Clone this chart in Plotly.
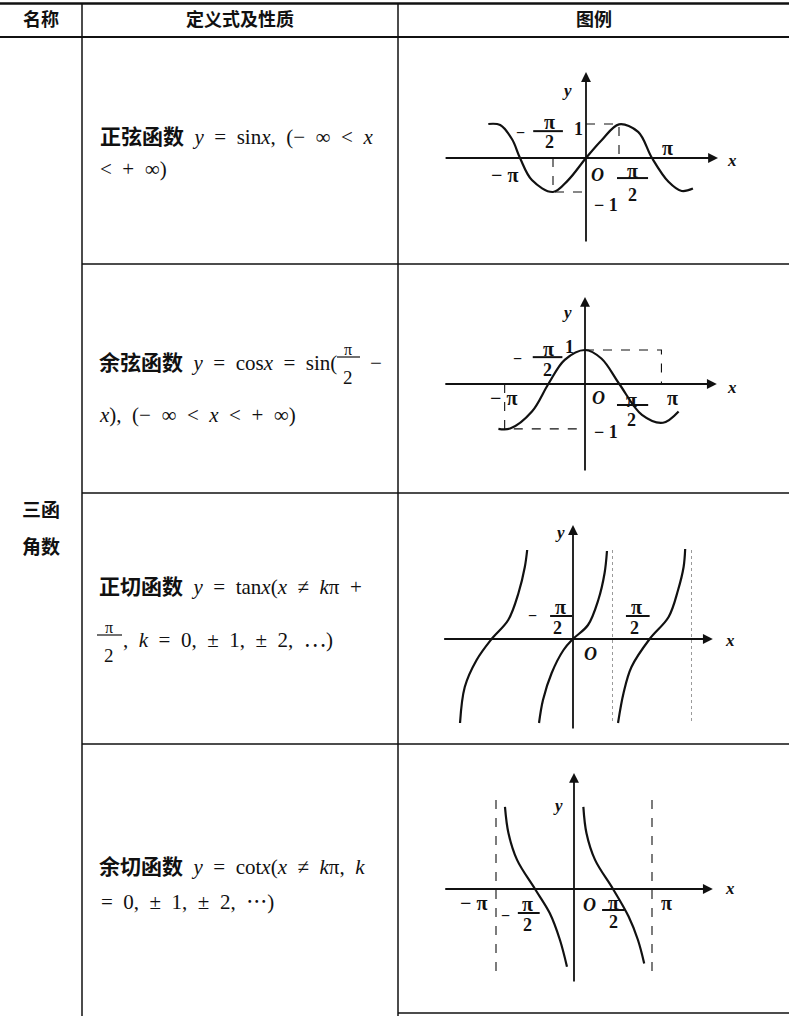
import plotly.graph_objects as go

W, H = 789, 1016

# ---- table text ----
headers = ["名称", "定义式及性质", "图例"]
group_name = ["三函", "角数"]

sin_def = ["<b>正弦函数</b> <i>y</i> = sin<i>x</i>, (− ∞ &lt; <i>x</i>", "&lt; + ∞)"]
cos_def = ["<b>余弦函数</b> <i>y</i> = cos<i>x</i> = sin(", "−", "<i>x</i>), (− ∞ &lt; <i>x</i> &lt; + ∞)"]
tan_def = ["<b>正切函数</b> <i>y</i> = tan<i>x</i>(<i>x</i> ≠ <i>k</i>π +", ", <i>k</i> = 0, ± 1, ± 2, ⋯)"]
cot_def = ["<b>余切函数</b> <i>y</i> = cot<i>x</i>(<i>x</i> ≠ <i>k</i>π, <i>k</i>", "= 0, ± 1, ± 2, ⋯)"]

# ---- curves (x in multiples of π) ----
sin_x = [-1.48, -1.3, -1.12, -1.0, -0.82, -0.5, -0.27, 0.0, 0.24, 0.5, 0.79, 1.0, 1.25, 1.45, 1.62]
sin_y = [1.0, 0.97, 0.55, 0.0, -0.65, -1.0, -0.65, 0.0, 0.53, 0.99, 0.77, 0.0, -0.7, -0.97, -0.9]

cos_x = [-1.11, -0.96, -0.68, -0.47, -0.26, 0.0, 0.21, 0.44, 0.73, 1.0, 1.2]
cos_y = [-1.32, -1.31, -0.81, 0.0, 0.71, 1.0, 0.75, 0.0, -0.91, -1.14, -0.81]

tan_left_x = [-1.43, -1.37, -1.22, -1.03, -0.82, -0.69, -0.61, -0.58]
tan_left_y = [-4.2, -2.4, -1.05, 0.0, 0.95, 2.3, 3.6, 4.45]
tan_mid_x = [-0.43, -0.38, -0.27, -0.12, 0.0, 0.19, 0.32, 0.40, 0.43]
tan_mid_y = [-4.2, -3.05, -1.7, -0.55, 0.0, 0.7, 1.95, 3.3, 4.4]
tan_right_x = [0.57, 0.64, 0.74, 0.97, 1.21, 1.33, 1.40, 1.42]
tan_right_y = [-4.2, -2.7, -1.4, 0.0, 1.1, 2.45, 3.6, 4.5]

cot_left_x = [-0.885, -0.84, -0.73, -0.5, -0.31, -0.18, -0.09]
cot_left_y = [2.74, 1.86, 0.97, 0.0, -0.81, -1.7, -2.59]
cot_right_x = [0.12, 0.16, 0.27, 0.5, 0.70, 0.82, 0.90]
cot_right_y = [2.74, 1.86, 0.97, 0.0, -0.92, -1.7, -2.48]

# dashed guide lines (None breaks the segments)
sin_guide_x = [0, 0.5, 0.5, None, -0.5, -0.5, 0]
sin_guide_y = [1, 1, 0, None, 0, -1, -1]
cos_guide_x = [0, 0.98, 0.98, None, -1.03, -1.03, 0]
cos_guide_y = [1, 1, 0, None, 0, -1.32, -1.32]
tan_asym_x = [0.5, 0.5, None, 1.5, 1.5]
tan_asym_y = [4.45, -4.2, None, 4.45, -4.2]
cot_asym_x = [-1, -1, None, 1, 1]
cot_asym_y = [2.97, -3.03, None, 2.97, -3.03]

# coordinate axes of each sketch: (x from, x to), (y from, y to)
sin_axes = ((-2.15, 2.0), (-2.5, 2.53))
cos_axes = ((-1.81, 1.69), (-2.59, 2.56))
tan_axes = ((-1.65, 1.77), (-4.55, 5.7))
cot_axes = ((-1.67, 1.78), (-3.13, 3.87))

INK = "#111111"
SERIF = "Liberation Serif, Noto Sans CJK SC"
WIDE = "\u2002"  # the book sets its formulas with wide gaps

fig = go.Figure()
layout = {}
annotations = []
shapes = []

# panel placement in pixels: box, origin, px per π, px per unit
panels = [
    ("", (420, 45, 785, 258), (586, 158), 66, 34),
    ("2", (420, 270, 785, 488), (585, 384), 78, 34),
    ("3", (420, 498, 785, 740), (573, 639), 79, 20),
    ("4", (420, 750, 785, 1010), (574, 889), 78, 30),
]
for sfx, (x0, y0, x1, y1), (ox, oy), sx, sy in panels:
    layout["xaxis" + sfx] = dict(domain=[x0 / W, x1 / W], range=[(x0 - ox) / sx, (x1 - ox) / sx],
                                 visible=False, fixedrange=True, anchor="y" + sfx)
    layout["yaxis" + sfx] = dict(domain=[1 - y1 / H, 1 - y0 / H], range=[(oy - y1) / sy, (oy - y0) / sy],
                                 visible=False, fixedrange=True, anchor="x" + sfx)


def curve(sfx, xs, ys, dash="solid", width=2.2, color=INK, spline=True):
    fig.add_trace(go.Scatter(x=xs, y=ys, mode="lines", xaxis="x" + sfx, yaxis="y" + sfx,
                             line=dict(color=color, width=width, dash=dash,
                                       shape="spline" if spline else "linear"),
                             hoverinfo="skip", showlegend=False))


def axes_arrows(sfx, ax_def):
    (xa, xb), (ya, yb) = ax_def
    for tail, head in (((xa, 0), (xb, 0)), ((0, ya), (0, yb))):
        annotations.append(dict(xref="x" + sfx, yref="y" + sfx, axref="x" + sfx, ayref="y" + sfx,
                                x=head[0], y=head[1], ax=tail[0], ay=tail[1], text="",
                                showarrow=True, arrowhead=2, arrowsize=1.1, arrowwidth=1.8,
                                arrowcolor=INK))


def lab(sfx, x, y, text, size=18, italic=False):
    t = "<i>%s</i>" % text if italic else text
    annotations.append(dict(xref="x" + sfx, yref="y" + sfx, x=x, y=y, text="<b>%s</b>" % t,
                            showarrow=False, font=dict(family=SERIF, size=size, color=INK)))


def bar(sfx, xa, xb, y):
    shapes.append(dict(type="line", xref="x" + sfx, yref="y" + sfx, x0=xa, x1=xb, y0=y, y1=y,
                       line=dict(color=INK, width=2)))


PI = 20
# --- sin ---
curve("", sin_guide_x, sin_guide_y, dash="dash", width=1.1, spline=False)
curve("", sin_x, sin_y)
axes_arrows("", sin_axes)
lab("", -0.29, 2.0, "y", 17, italic=True)
lab("", 2.21, -0.06, "x", 17, italic=True)
lab("", -1.0, 0.76, "−", 16)
lab("", -0.55, 1.06, "π", PI)
bar("", -0.8, -0.35, 0.79)
lab("", -0.55, 0.47, "2")
lab("", -0.12, 0.85, "1")
lab("", 1.24, 0.29, "π", PI)
lab("", -1.23, -0.5, "− π", PI)
lab("", 0.18, -0.5, "O", italic=True)
lab("", 0.71, -0.38, "π", PI)
bar("", 0.47, 0.94, -0.59)
lab("", 0.7, -1.09, "2")
lab("", 0.3, -1.38, "− 1")

# --- cos ---
curve("2", cos_guide_x, cos_guide_y, dash="dash", width=1.1, spline=False)
curve("2", cos_x, cos_y)
axes_arrows("2", cos_axes)
lab("2", -0.23, 2.09, "y", 17, italic=True)
lab("2", 1.88, -0.09, "x", 17, italic=True)
lab("2", -0.87, 0.76, "−", 16)
lab("2", -0.47, 1.04, "π", PI)
bar("2", -0.67, -0.29, 0.79)
lab("2", -0.48, 0.41, "2")
lab("2", -0.2, 1.09, "1")
lab("2", -1.05, -0.41, "− π", PI)
lab("2", 0.17, -0.41, "O", italic=True)
lab("2", 0.6, -0.47, "π", PI)
bar("2", 0.41, 0.81, -0.62)
lab("2", 0.6, -1.06, "2")
lab("2", 1.12, -0.41, "π", PI)
lab("2", 0.27, -1.41, "− 1")

# --- tan ---
curve("3", tan_asym_x, tan_asym_y, dash="dot", width=1, color="#9a9a9a", spline=False)
curve("3", tan_left_x, tan_left_y)
curve("3", tan_mid_x, tan_mid_y)
curve("3", tan_right_x, tan_right_y)
axes_arrows("3", tan_axes)
lab("3", -0.16, 5.35, "y", 17, italic=True)
lab("3", 1.99, -0.05, "x", 17, italic=True)
lab("3", -0.51, 1.2, "−", 16)
lab("3", -0.16, 1.6, "π", PI)
bar("3", -0.29, -0.01, 1.15)
lab("3", -0.19, 0.55, "2")
lab("3", 0.81, 1.6, "π", PI)
bar("3", 0.67, 0.97, 1.15)
lab("3", 0.78, 0.55, "2")
lab("3", 0.22, -0.75, "O", italic=True)

# --- cot ---
curve("4", cot_asym_x, cot_asym_y, dash="dash", width=1.1, spline=False)
curve("4", cot_left_x, cot_left_y)
curve("4", cot_right_x, cot_right_y)
axes_arrows("4", cot_axes)
lab("4", -0.21, 2.8, "y", 17, italic=True)
lab("4", 2.0, 0.03, "x", 17, italic=True)
lab("4", -1.29, -0.47, "− π", PI)
lab("4", -0.88, -0.87, "−", 16)
lab("4", -0.59, -0.5, "π", PI)
bar("4", -0.72, -0.44, -0.8)
lab("4", -0.59, -1.2, "2")
lab("4", 0.2, -0.53, "O", italic=True)
lab("4", 0.5, -0.45, "π", PI)
bar("4", 0.36, 0.65, -0.7)
lab("4", 0.5, -1.1, "2")
lab("4", 1.19, -0.47, "π", PI)


# ---- table frame (paper coords from pixels) ----
def hline(py, xa, xb, w):
    shapes.append(dict(type="line", xref="paper", yref="paper", x0=xa / W, x1=xb / W,
                       y0=1 - py / H, y1=1 - py / H, line=dict(color=INK, width=w)))


def vline(px, ya, yb, w):
    shapes.append(dict(type="line", xref="paper", yref="paper", x0=px / W, x1=px / W,
                       y0=1 - ya / H, y1=1 - yb / H, line=dict(color=INK, width=w)))


hline(3.5, 0, W, 2.5)
hline(37, 0, W, 2)
for py in (264, 493, 744):
    hline(py, 82, W, 1.5)
hline(1013, 398, W, 1.5)
vline(82, 3, H, 1.5)
vline(398, 3, H, 1.5)


def txt(px, py, text, size=21, anchor="left", bold=False):
    t = text.replace(" ", WIDE)
    t = "<b>%s</b>" % t if bold else t
    annotations.append(dict(xref="paper", yref="paper", x=px / W, y=1 - py / H, text=t,
                            xanchor=anchor, yanchor="middle", showarrow=False,
                            font=dict(family=SERIF, size=size, color=INK)))


for cx, h in zip((41, 240, 594), headers):
    txt(cx, 20, h, 18, "center", bold=True)
txt(41, 510, group_name[0], 19, "center", bold=True)
txt(41, 547, group_name[1], 19, "center", bold=True)

txt(98, 137, sin_def[0])
txt(98, 169, sin_def[1])

txt(97, 363, cos_def[0])
txt(348, 349, "π", 16, "center")
hline(357, 337, 360, 1.2)
txt(348, 377, "2", 19, "center")
txt(368, 363, cos_def[1])
txt(97, 415, cos_def[2])

txt(97, 587, tan_def[0])
txt(109, 627, "π", 16, "center")
hline(635, 97, 122, 1.2)
txt(109, 655, "2", 19, "center")
txt(121, 640, tan_def[1])

txt(97, 867, cot_def[0])
txt(99, 902, cot_def[1])

layout.update(width=W, height=H, margin=dict(l=0, r=0, t=0, b=0), autosize=False,
              paper_bgcolor="white", plot_bgcolor="rgba(0,0,0,0)",
              annotations=annotations, shapes=shapes, showlegend=False)
fig.update_layout(**layout)
# drop the browser's default page margin so the figure sits at the window corner
fig.write_html("out.html", config={"displayModeBar": False},
               post_script="document.body.style.margin='0px';")
